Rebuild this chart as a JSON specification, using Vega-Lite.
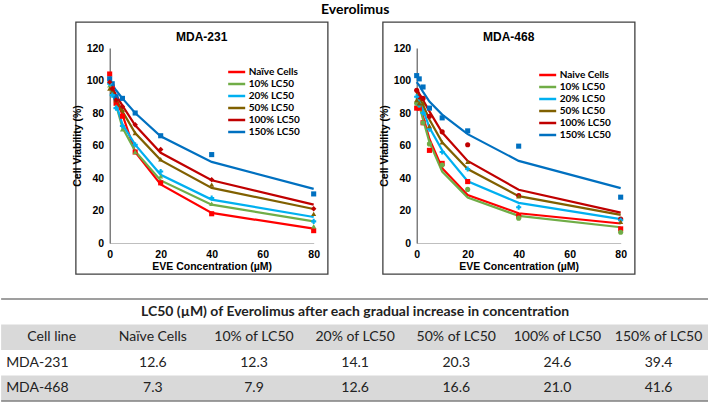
{
  "$schema": "https://vega.github.io/schema/vega-lite/v6.json",
  "padding": {"top": 3, "left": 0, "right": 0, "bottom": 0},
  "background": "white",
  "title": {"text": "Everolimus", "anchor": "middle", "font": "Lato", "fontSize": 14, "fontWeight": "bold", "color": "#000", "offset": 4},
  "datasets": {
    "c231": [
      {"series": "Naïve Cells", "conc": 0, "obs": 104, "fit": 100}, {"series": "Naïve Cells", "conc": 1, "obs": 96, "fit": 95}, {"series": "Naïve Cells", "conc": 2.5, "obs": 86, "fit": 88}, {"series": "Naïve Cells", "conc": 5, "obs": 78, "fit": 79}, {"series": "Naïve Cells", "conc": 10, "obs": 56, "fit": 56}, {"series": "Naïve Cells", "conc": 20, "obs": 37, "fit": 36}, {"series": "Naïve Cells", "conc": 40, "obs": 18, "fit": 18.5}, {"series": "Naïve Cells", "conc": 80, "obs": 7.6, "fit": 8.8},
      {"series": "10% LC50", "conc": 0, "obs": 97, "fit": 98}, {"series": "10% LC50", "conc": 1, "obs": 92, "fit": 93}, {"series": "10% LC50", "conc": 2.5, "obs": 84, "fit": 85}, {"series": "10% LC50", "conc": 5, "obs": 70, "fit": 71}, {"series": "10% LC50", "conc": 10, "obs": 56, "fit": 56.5}, {"series": "10% LC50", "conc": 20, "obs": 41, "fit": 38.5}, {"series": "10% LC50", "conc": 40, "obs": 24.2, "fit": 23.6}, {"series": "10% LC50", "conc": 80, "obs": 10.3, "fit": 13.3},
      {"series": "20% LC50", "conc": 0, "obs": 98, "fit": 98}, {"series": "20% LC50", "conc": 1, "obs": 91, "fit": 93}, {"series": "20% LC50", "conc": 2.5, "obs": 83, "fit": 85.5}, {"series": "20% LC50", "conc": 5, "obs": 72, "fit": 73}, {"series": "20% LC50", "conc": 10, "obs": 60.5, "fit": 60.5}, {"series": "20% LC50", "conc": 20, "obs": 44, "fit": 42}, {"series": "20% LC50", "conc": 40, "obs": 27.7, "fit": 26.7}, {"series": "20% LC50", "conc": 80, "obs": 13.3, "fit": 16},
      {"series": "50% LC50", "conc": 0, "obs": 95, "fit": 98}, {"series": "50% LC50", "conc": 1, "obs": 93, "fit": 94}, {"series": "50% LC50", "conc": 2.5, "obs": 88, "fit": 89}, {"series": "50% LC50", "conc": 5, "obs": 82, "fit": 81}, {"series": "50% LC50", "conc": 10, "obs": 67.7, "fit": 67.7}, {"series": "50% LC50", "conc": 20, "obs": 51.5, "fit": 51}, {"series": "50% LC50", "conc": 40, "obs": 35.9, "fit": 33.9}, {"series": "50% LC50", "conc": 80, "obs": 17.9, "fit": 20.9},
      {"series": "100% LC50", "conc": 0, "obs": 99, "fit": 99}, {"series": "100% LC50", "conc": 1, "obs": 95, "fit": 96}, {"series": "100% LC50", "conc": 2.5, "obs": 88, "fit": 91}, {"series": "100% LC50", "conc": 5, "obs": 84, "fit": 84.5}, {"series": "100% LC50", "conc": 10, "obs": 72.8, "fit": 72.4}, {"series": "100% LC50", "conc": 20, "obs": 57.5, "fit": 55.5}, {"series": "100% LC50", "conc": 40, "obs": 39, "fit": 38.6}, {"series": "100% LC50", "conc": 80, "obs": 21.1, "fit": 23.6},
      {"series": "150% LC50", "conc": 0, "obs": 101, "fit": 100.5}, {"series": "150% LC50", "conc": 1, "obs": 98, "fit": 97.5}, {"series": "150% LC50", "conc": 2.5, "obs": 90, "fit": 94}, {"series": "150% LC50", "conc": 5, "obs": 89, "fit": 89}, {"series": "150% LC50", "conc": 10, "obs": 80, "fit": 80}, {"series": "150% LC50", "conc": 20, "obs": 66, "fit": 65.7}, {"series": "150% LC50", "conc": 40, "obs": 54.4, "fit": 49.9}, {"series": "150% LC50", "conc": 80, "obs": 30.2, "fit": 33.3}
    ],
    "c468": [
      {"series": "Naive Cells", "conc": 0, "obs": 83, "fit": 93}, {"series": "Naive Cells", "conc": 1, "obs": 83, "fit": 87}, {"series": "Naive Cells", "conc": 2.5, "obs": 74, "fit": 78}, {"series": "Naive Cells", "conc": 5, "obs": 57, "fit": 64}, {"series": "Naive Cells", "conc": 10, "obs": 49, "fit": 46}, {"series": "Naive Cells", "conc": 20, "obs": 37.8, "fit": 29.5}, {"series": "Naive Cells", "conc": 40, "obs": 16.7, "fit": 18.3}, {"series": "Naive Cells", "conc": 80, "obs": 8.7, "fit": 12},
      {"series": "10% LC50", "conc": 0, "obs": 86, "fit": 91}, {"series": "10% LC50", "conc": 1, "obs": 85, "fit": 85}, {"series": "10% LC50", "conc": 2.5, "obs": 74, "fit": 76}, {"series": "10% LC50", "conc": 5, "obs": 61, "fit": 62}, {"series": "10% LC50", "conc": 10, "obs": 48, "fit": 44}, {"series": "10% LC50", "conc": 20, "obs": 33, "fit": 28}, {"series": "10% LC50", "conc": 40, "obs": 15.3, "fit": 16.7}, {"series": "10% LC50", "conc": 80, "obs": 6.6, "fit": 9.7},
      {"series": "20% LC50", "conc": 0, "obs": 90, "fit": 92}, {"series": "20% LC50", "conc": 1, "obs": 85, "fit": 88}, {"series": "20% LC50", "conc": 2.5, "obs": 80, "fit": 82}, {"series": "20% LC50", "conc": 5, "obs": 70, "fit": 71}, {"series": "20% LC50", "conc": 10, "obs": 56, "fit": 57}, {"series": "20% LC50", "conc": 20, "obs": 45.5, "fit": 38}, {"series": "20% LC50", "conc": 40, "obs": 22, "fit": 24.7}, {"series": "20% LC50", "conc": 80, "obs": 14, "fit": 14.7},
      {"series": "50% LC50", "conc": 0, "obs": 88, "fit": 93}, {"series": "50% LC50", "conc": 1, "obs": 86, "fit": 90}, {"series": "50% LC50", "conc": 2.5, "obs": 86, "fit": 85}, {"series": "50% LC50", "conc": 5, "obs": 72, "fit": 76}, {"series": "50% LC50", "conc": 10, "obs": 62, "fit": 62}, {"series": "50% LC50", "conc": 20, "obs": 50, "fit": 45.5}, {"series": "50% LC50", "conc": 40, "obs": 28.8, "fit": 28.8}, {"series": "50% LC50", "conc": 80, "obs": 13, "fit": 17.3},
      {"series": "100% LC50", "conc": 0, "obs": 94, "fit": 95}, {"series": "100% LC50", "conc": 1, "obs": 90, "fit": 92}, {"series": "100% LC50", "conc": 2.5, "obs": 89, "fit": 88}, {"series": "100% LC50", "conc": 5, "obs": 78, "fit": 81}, {"series": "100% LC50", "conc": 10, "obs": 68.4, "fit": 68}, {"series": "100% LC50", "conc": 20, "obs": 60.5, "fit": 50.5}, {"series": "100% LC50", "conc": 40, "obs": 29.2, "fit": 32.8}, {"series": "100% LC50", "conc": 80, "obs": 14.7, "fit": 18.7},
      {"series": "150% LC50", "conc": 0, "obs": 103, "fit": 99}, {"series": "150% LC50", "conc": 1, "obs": 101, "fit": 97}, {"series": "150% LC50", "conc": 2.5, "obs": 96, "fit": 93}, {"series": "150% LC50", "conc": 5, "obs": 83, "fit": 87}, {"series": "150% LC50", "conc": 10, "obs": 77, "fit": 79}, {"series": "150% LC50", "conc": 20, "obs": 69, "fit": 67}, {"series": "150% LC50", "conc": 40, "obs": 59.6, "fit": 50.5}, {"series": "150% LC50", "conc": 80, "obs": 28.2, "fit": 33.8}
    ],
    "lc50": [
      {"line": "header", "col": "Cell line", "val": "Cell line"},
      {"line": "header", "col": "Naïve Cells", "val": "Naïve Cells"},
      {"line": "header", "col": "10% of LC50", "val": "10% of LC50"},
      {"line": "header", "col": "20% of LC50", "val": "20% of LC50"},
      {"line": "header", "col": "50% of LC50", "val": "50% of LC50"},
      {"line": "header", "col": "100% of LC50", "val": "100% of LC50"},
      {"line": "header", "col": "150% of LC50", "val": "150% of LC50"},
      {"line": "MDA-231", "col": "Cell line", "val": "MDA-231"},
      {"line": "MDA-231", "col": "Naïve Cells", "val": "12.6"},
      {"line": "MDA-231", "col": "10% of LC50", "val": "12.3"},
      {"line": "MDA-231", "col": "20% of LC50", "val": "14.1"},
      {"line": "MDA-231", "col": "50% of LC50", "val": "20.3"},
      {"line": "MDA-231", "col": "100% of LC50", "val": "24.6"},
      {"line": "MDA-231", "col": "150% of LC50", "val": "39.4"},
      {"line": "MDA-468", "col": "Cell line", "val": "MDA-468"},
      {"line": "MDA-468", "col": "Naïve Cells", "val": "7.3"},
      {"line": "MDA-468", "col": "10% of LC50", "val": "7.9"},
      {"line": "MDA-468", "col": "20% of LC50", "val": "12.6"},
      {"line": "MDA-468", "col": "50% of LC50", "val": "16.6"},
      {"line": "MDA-468", "col": "100% of LC50", "val": "21.0"},
      {"line": "MDA-468", "col": "150% of LC50", "val": "41.6"}
    ]
  },
  "vconcat": [
    {
      "hconcat": [
        {
          "width": 252, "height": 252,
          "view": {"stroke": "#404040", "strokeWidth": 1.3},
          "title": {"text": "MDA-231", "font": "Liberation Sans", "fontSize": 12, "fontWeight": "bold", "color": "#000", "offset": -22},
          "data": {"name": "c231"},
          "layer": [
            {
              "mark": {"type": "line", "strokeWidth": 2.2},
              "encoding": {
                "x": {"field": "conc", "type": "quantitative", "scale": {"domain": [0, 80], "range": [34, 238], "nice": false},
                  "axis": {"title": "EVE Concentration (µM)", "offset": -31, "values": [0, 20, 40, 60, 80], "ticks": false, "grid": false, "labelFlush": false, "labelOverlap": false, "labelFont": "Liberation Sans", "labelFontWeight": "bold", "labelFontSize": 10.5, "labelColor": "#000", "labelPadding": 6, "domainColor": "#bfbfbf", "titleFont": "Liberation Sans", "titleFontWeight": "bold", "titleFontSize": 10.5, "titleColor": "#000", "titlePadding": 2}},
                "y": {"field": "fit", "type": "quantitative", "scale": {"domain": [0, 120], "range": [221, 26], "nice": false},
                  "axis": {"title": "Cell Viability (%)", "offset": -34, "values": [0, 20, 40, 60, 80, 100, 120], "ticks": false, "grid": false, "labelOverlap": false, "labelFont": "Liberation Sans", "labelFontWeight": "bold", "labelFontSize": 10.5, "labelColor": "#000", "labelPadding": 6, "domainColor": "#404040", "titleFont": "Liberation Sans", "titleFontWeight": "bold", "titleFontSize": 10.5, "titleColor": "#000", "titlePadding": 4}},
                "stroke": {"field": "series", "type": "nominal",
                  "scale": {"domain": ["Naïve Cells", "10% LC50", "20% LC50", "50% LC50", "100% LC50", "150% LC50"], "range": ["#ff0000", "#70ad47", "#00b0f0", "#806000", "#c00000", "#0070c0"]},
                  "legend": {"title": null, "orient": "none", "legendX": 151, "legendY": 45, "symbolType": "M-1,0H3.86", "symbolSize": 49, "symbolStrokeWidth": 2.5, "labelOffset": 12, "labelFont": "Lato", "labelFontWeight": "bold", "labelFontSize": 10, "labelColor": "#000", "rowPadding": 2}}
              }
            },
            {
              "transform": [{"filter": {"field": "series", "oneOf": ["Naïve Cells", "150% LC50"]}}],
              "mark": {"type": "point", "filled": true, "size": 26, "opacity": 1, "shape": "square"},
              "encoding": {
                "x": {"field": "conc", "type": "quantitative", "title": "EVE Concentration (µM)"},
                "y": {"field": "obs", "type": "quantitative", "title": "Cell Viability (%)"},
                "color": {"field": "series", "type": "nominal", "scale": {"domain": ["Naïve Cells", "10% LC50", "20% LC50", "50% LC50", "100% LC50", "150% LC50"], "range": ["#ff0000", "#70ad47", "#00b0f0", "#806000", "#c00000", "#0070c0"]}, "legend": null}
              }
            },
            {
              "transform": [{"filter": {"field": "series", "oneOf": ["10% LC50", "50% LC50"]}}],
              "mark": {"type": "point", "filled": true, "size": 26, "opacity": 1, "shape": "triangle-up"},
              "encoding": {
                "x": {"field": "conc", "type": "quantitative", "title": "EVE Concentration (µM)"},
                "y": {"field": "obs", "type": "quantitative", "title": "Cell Viability (%)"},
                "color": {"field": "series", "type": "nominal", "legend": null}
              }
            },
            {
              "transform": [{"filter": {"field": "series", "equal": "20% LC50"}}],
              "mark": {"type": "point", "filled": true, "size": 26, "opacity": 1, "shape": "cross"},
              "encoding": {
                "x": {"field": "conc", "type": "quantitative", "title": "EVE Concentration (µM)"},
                "y": {"field": "obs", "type": "quantitative", "title": "Cell Viability (%)"},
                "color": {"field": "series", "type": "nominal", "legend": null}
              }
            },
            {
              "transform": [{"filter": {"field": "series", "equal": "100% LC50"}}],
              "mark": {"type": "point", "filled": true, "size": 30, "opacity": 1, "shape": "diamond"},
              "encoding": {
                "x": {"field": "conc", "type": "quantitative", "title": "EVE Concentration (µM)"},
                "y": {"field": "obs", "type": "quantitative", "title": "Cell Viability (%)"},
                "color": {"field": "series", "type": "nominal", "legend": null}
              }
            }
          ]
        },
        {
          "width": 252, "height": 252,
          "view": {"stroke": "#404040", "strokeWidth": 1.3},
          "title": {"text": "MDA-468", "font": "Liberation Sans", "fontSize": 12, "fontWeight": "bold", "color": "#000", "offset": -22},
          "data": {"name": "c468"},
          "layer": [
            {
              "mark": {"type": "line", "strokeWidth": 2.2},
              "encoding": {
                "x": {"field": "conc", "type": "quantitative", "scale": {"domain": [0, 80], "range": [34, 238], "nice": false},
                  "axis": {"title": "EVE Concentration (µM)", "offset": -31, "values": [0, 20, 40, 60, 80], "ticks": false, "grid": false, "labelFlush": false, "labelOverlap": false, "labelFont": "Liberation Sans", "labelFontWeight": "bold", "labelFontSize": 10.5, "labelColor": "#000", "labelPadding": 6, "domainColor": "#bfbfbf", "titleFont": "Liberation Sans", "titleFontWeight": "bold", "titleFontSize": 10.5, "titleColor": "#000", "titlePadding": 2}},
                "y": {"field": "fit", "type": "quantitative", "scale": {"domain": [0, 120], "range": [221, 26], "nice": false},
                  "axis": {"title": "Cell Viability (%)", "offset": -34, "values": [0, 20, 40, 60, 80, 100, 120], "ticks": false, "grid": false, "labelOverlap": false, "labelFont": "Liberation Sans", "labelFontWeight": "bold", "labelFontSize": 10.5, "labelColor": "#000", "labelPadding": 6, "domainColor": "#404040", "titleFont": "Liberation Sans", "titleFontWeight": "bold", "titleFontSize": 10.5, "titleColor": "#000", "titlePadding": 4}},
                "stroke": {"field": "series", "type": "nominal",
                  "scale": {"domain": ["Naive Cells", "10% LC50", "20% LC50", "50% LC50", "100% LC50", "150% LC50"], "range": ["#ff0000", "#70ad47", "#00b0f0", "#806000", "#c00000", "#0070c0"]},
                  "legend": {"title": null, "orient": "none", "legendX": 155, "legendY": 48, "symbolType": "M-1,0H3.86", "symbolSize": 49, "symbolStrokeWidth": 2.5, "labelOffset": 12, "labelFont": "Lato", "labelFontWeight": "bold", "labelFontSize": 10, "labelColor": "#000", "rowPadding": 2}}
              }
            },
            {
              "transform": [{"filter": {"field": "series", "oneOf": ["Naive Cells", "150% LC50"]}}],
              "mark": {"type": "point", "filled": true, "size": 26, "opacity": 1, "shape": "square"},
              "encoding": {
                "x": {"field": "conc", "type": "quantitative", "title": "EVE Concentration (µM)"},
                "y": {"field": "obs", "type": "quantitative", "title": "Cell Viability (%)"},
                "color": {"field": "series", "type": "nominal", "scale": {"domain": ["Naive Cells", "10% LC50", "20% LC50", "50% LC50", "100% LC50", "150% LC50"], "range": ["#ff0000", "#70ad47", "#00b0f0", "#806000", "#c00000", "#0070c0"]}, "legend": null}
              }
            },
            {
              "transform": [{"filter": {"field": "series", "oneOf": ["10% LC50", "100% LC50"]}}],
              "mark": {"type": "point", "filled": true, "size": 26, "opacity": 1, "shape": "circle"},
              "encoding": {
                "x": {"field": "conc", "type": "quantitative", "title": "EVE Concentration (µM)"},
                "y": {"field": "obs", "type": "quantitative", "title": "Cell Viability (%)"},
                "color": {"field": "series", "type": "nominal", "legend": null}
              }
            },
            {
              "transform": [{"filter": {"field": "series", "equal": "20% LC50"}}],
              "mark": {"type": "point", "filled": true, "size": 26, "opacity": 1, "shape": "cross"},
              "encoding": {
                "x": {"field": "conc", "type": "quantitative", "title": "EVE Concentration (µM)"},
                "y": {"field": "obs", "type": "quantitative", "title": "Cell Viability (%)"},
                "color": {"field": "series", "type": "nominal", "legend": null}
              }
            },
            {
              "transform": [{"filter": {"field": "series", "equal": "50% LC50"}}],
              "mark": {"type": "point", "filled": true, "size": 26, "opacity": 1, "shape": "triangle-up"},
              "encoding": {
                "x": {"field": "conc", "type": "quantitative", "title": "EVE Concentration (µM)"},
                "y": {"field": "obs", "type": "quantitative", "title": "Cell Viability (%)"},
                "color": {"field": "series", "type": "nominal", "legend": null}
              }
            }
          ]
        }
      ],
      "spacing": 49,
      "resolve": {"scale": {"color": "independent", "stroke": "independent"}, "legend": {"color": "independent", "stroke": "independent"}}
    },
    {
      "width": 708, "height": 102,
      "view": {"stroke": null},
      "layer": [
        {
          "data": {"values": [{"line": "header"}, {"line": "MDA-468"}]},
          "mark": {"type": "rect", "fill": "#d9d9d9"},
          "encoding": {"y": {"field": "line", "type": "nominal", "scale": {"type": "band", "domain": ["title", "header", "MDA-231", "MDA-468"], "paddingInner": 0, "paddingOuter": 0}, "axis": null}}
        },
        {
          "data": {"values": [{"line": "title"}]},
          "mark": {"type": "rule", "color": "#7f7f7f", "strokeWidth": 1.5},
          "encoding": {"y": {"field": "line", "type": "nominal", "bandPosition": 0, "axis": null}}
        },
        {
          "data": {"values": [{"line": "MDA-468"}]},
          "mark": {"type": "rule", "color": "#7f7f7f", "strokeWidth": 1.5},
          "encoding": {"y": {"field": "line", "type": "nominal", "bandPosition": 1, "axis": null}}
        },
        {
          "data": {"values": [{"line": "title", "val": "LC50 (µM) of Everolimus after each gradual increase in concentration"}]},
          "mark": {"type": "text", "font": "Lato", "fontSize": 14, "fontWeight": "bold", "color": "#222"},
          "encoding": {"y": {"field": "line", "type": "nominal", "axis": null}, "text": {"field": "val"}}
        },
        {
          "data": {"name": "lc50"},
          "transform": [{"filter": "datum.col != 'Cell line' || datum.line == 'header'"}],
          "mark": {"type": "text", "font": "Lato", "fontSize": 14, "color": "#222"},
          "encoding": {
            "x": {"field": "col", "type": "nominal", "scale": {"type": "band", "domain": ["Cell line", "Naïve Cells", "10% of LC50", "20% of LC50", "50% of LC50", "100% of LC50", "150% of LC50"], "paddingInner": 0, "paddingOuter": 0}, "axis": null},
            "y": {"field": "line", "type": "nominal", "axis": null},
            "text": {"field": "val"}
          }
        },
        {
          "data": {"name": "lc50"},
          "transform": [{"filter": "datum.col == 'Cell line' && datum.line != 'header'"}],
          "mark": {"type": "text", "font": "Lato", "fontSize": 14, "color": "#222", "align": "left", "dx": 5},
          "encoding": {
            "x": {"field": "col", "type": "nominal", "bandPosition": 0, "axis": null},
            "y": {"field": "line", "type": "nominal", "axis": null},
            "text": {"field": "val"}
          }
        }
      ]
    }
  ],
  "spacing": 23,
  "center": true,
  "config": {"font": "Liberation Sans"}
}
